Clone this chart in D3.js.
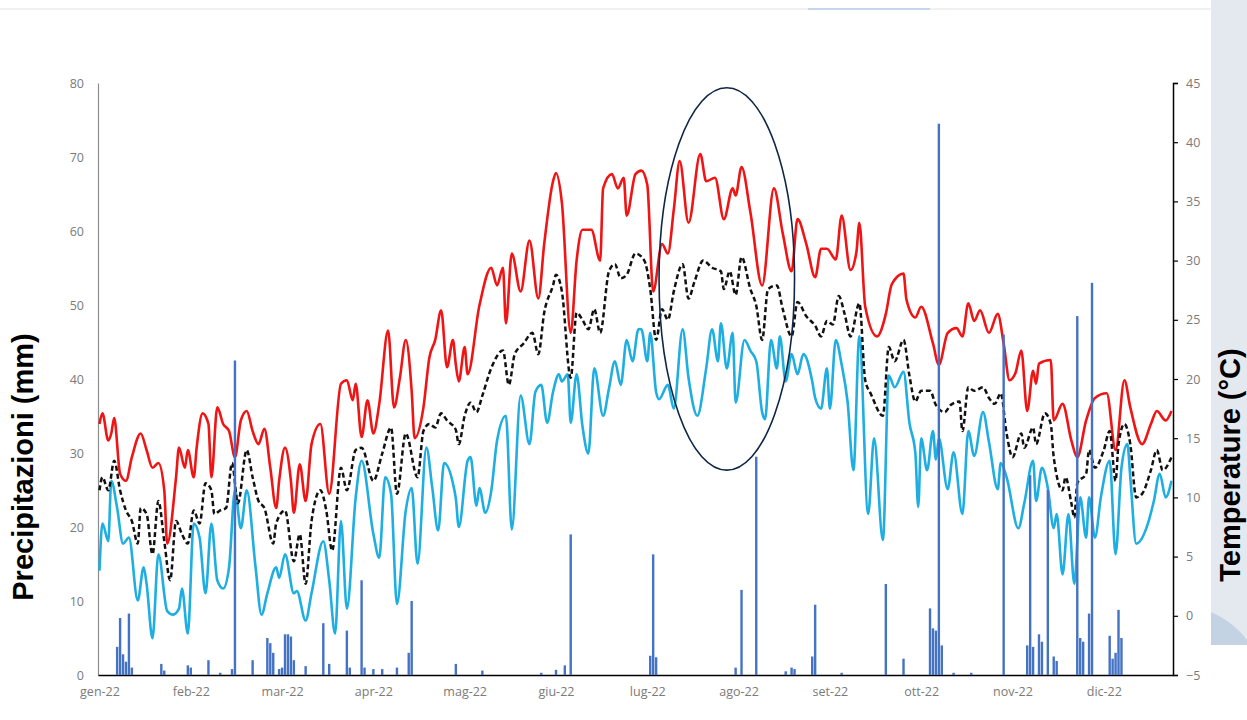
<!DOCTYPE html>
<html>
<head>
<meta charset="utf-8">
<script src="https://cdn.jsdelivr.net/npm/d3@7"></script>
<style>
  body { margin: 0; background: #fff; }
  svg { display: block; }
</style>
</head>
<body>
<svg id="chart" width="1247" height="720"></svg>
<script>
// x axis: one category per day of 2022, a label every 31 days
const tickDays = [0, 31, 62, 93, 124, 155, 186, 217, 248, 279, 310, 341];
const tickLabels = ['gen-22', 'feb-22', 'mar-22', 'apr-22', 'mag-22', 'giu-22',
  'lug-22', 'ago-22', 'set-22', 'ott-22', 'nov-22', 'dic-22'];

// daily rain, mm  [day, value]  (dry days left out)
const precip = [[6,3.8],[7,7.7],[8,2.8],[9,1.8],[10,8.3],[11,1.0],[21,1.5],[22,0.6],[30,1.3],[31,1.0],
  [37,2.0],[41,0.3],[45,0.8],[46,42.5],[52,2.0],[57,5.0],[58,4.3],[59,3.0],[61,0.8],[62,1.0],[63,5.5],
  [64,5.5],[65,5.2],[66,2.0],[70,1.2],[76,7.0],[78,1.5],[84,6.0],[85,1.0],[89,12.8],[90,1.0],[93,0.8],
  [96,0.8],[101,1.0],[105,3.0],[106,10.0],[121,1.5],[130,0.6],[150,0.3],[155,0.7],[158,1.3],[160,19.0],
  [187,2.6],[188,16.3],[189,2.4],[216,1.0],[218,11.5],[223,29.5],[233,0.5],[235,1.0],[236,0.8],[242,2.5],
  [243,9.5],[252,0.3],[267,12.3],[273,2.2],[282,9.0],[283,6.3],[284,6.0],[285,74.5],[286,4.0],[290,0.3],
  [296,0.3],[307,46.0],[315,4.0],[316,27.0],[317,3.8],[319,5.5],[320,4.5],[322,25.0],[324,2.5],[325,1.9],
  [332,48.5],[333,5.0],[334,4.5],[336,8.3],[337,53.0],[343,5.3],[344,2.2],[345,3.0],[346,8.8],[347,5.0]];

// temperatures, °C  [day, value]
const tmax = [[0,16.2],[1,17.1],[3,14.8],[4,15.4],[5,16.7],[7,12.0],[9,11.4],[11,13.4],[14,15.4],[16,14.0],
  [18,12.5],[20,12.9],[22,10.6],[23,6.1],[26,11.7],[27,14.2],[29,12.5],[30,14.0],[32,11.7],[33,14.2],
  [35,17.1],[37,16.2],[38,11.7],[40,17.6],[42,16.2],[44,15.6],[46,13.4],[48,16.5],[50,17.3],[52,15.6],
  [54,14.5],[56,15.8],[58,12.5],[60,9.1],[61,11.4],[63,14.2],[65,11.4],[66,8.7],[68,12.8],[70,9.7],
  [72,14.5],[75,16.2],[78,10.3],[82,19.6],[84,19.9],[86,18.2],[87,19.6],[89,15.1],[91,18.2],[93,15.4],
  [95,17.9],[98,24.1],[100,17.6],[102,20.1],[104,23.3],[106,19.0],[107,15.0],[110,17.6],[112,21.8],
  [114,23.3],[116,25.8],[118,21.0],[120,23.3],[121,21.2],[122,19.8],[124,22.7],[125,20.4],[129,26.2],
  [133,29.4],[135,27.9],[137,29.4],[138,24.7],[140,30.6],[143,27.4],[146,31.7],[149,26.8],[151,31.4],
  [154,36.7],[155,37.4],[157,34.9],[160,23.9],[162,30.0],[164,32.6],[167,32.6],[170,30.0],[171,36.1],
  [174,37.3],[176,36.1],[178,37.0],[179,33.8],[182,37.3],[184,37.6],[186,36.4],[188,27.4],[191,31.4],
  [193,30.6],[195,34.3],[197,38.4],[200,33.2],[204,39.0],[206,36.7],[209,37.0],[212,33.5],[215,36.1],
  [216,35.5],[218,37.9],[221,34.1],[225,27.9],[229,36.1],[232,32.3],[235,29.1],[237,33.5],[240,31.4],
  [243,28.6],[245,31.0],[247,31.0],[250,30.1],[252,33.8],[255,29.2],[257,30.7],[258,33.2],[260,26.1],
  [264,23.6],[267,25.5],[269,28.0],[273,28.9],[274,26.7],[277,25.2],[279,26.1],[283,23.0],[285,21.2],
  [288,23.9],[291,24.3],[293,23.6],[295,26.4],[297,24.9],[299,25.8],[302,23.9],[305,25.5],[307,23.0],
  [309,19.9],[311,20.5],[313,22.4],[315,17.3],[317,20.7],[318,19.6],[319,21.3],[323,21.6],[324,16.5],
  [327,17.9],[330,14.8],[332,13.4],[335,16.5],[338,18.4],[342,18.8],[345,14.0],[348,19.9],[350,17.6],
  [354,14.5],[357,16.2],[359,17.3],[362,16.5],[364,17.3]];

const tmean = [[0,10.6],[1,11.7],[3,10.6],[5,13.1],[7,10.6],[9,8.9],[11,8.0],[13,6.1],[14,9.1],[16,8.6],
  [18,5.2],[20,9.7],[22,6.3],[24,3.0],[26,8.0],[28,6.9],[30,6.1],[32,8.9],[34,7.8],[36,11.2],[38,10.6],
  [39,8.6],[41,8.9],[43,9.1],[45,12.9],[47,9.5],[50,14.0],[52,11.7],[54,9.7],[56,9.1],[59,6.1],[60,7.8],
  [63,8.9],[66,4.6],[68,6.9],[70,2.7],[72,8.0],[75,10.6],[77,8.9],[79,5.5],[82,12.5],[84,10.6],[87,14.0],
  [89,14.2],[93,11.4],[96,13.7],[99,15.9],[101,10.3],[104,15.4],[108,11.7],[110,15.6],[112,16.2],
  [114,15.9],[116,17.1],[118,16.5],[121,15.7],[122,14.5],[124,16.9],[126,18.0],[128,17.2],[130,18.6],
  [133,20.9],[137,22.4],[139,19.5],[141,22.1],[144,23.0],[147,23.9],[149,22.1],[151,25.6],[154,27.9],
  [155,28.8],[157,27.4],[160,20.1],[162,25.6],[164,25.0],[166,24.2],[168,25.9],[170,23.9],[173,29.1],
  [175,29.7],[177,28.5],[179,28.8],[182,30.6],[185,30.0],[187,27.6],[189,23.3],[191,25.9],[193,25.0],
  [195,27.4],[198,29.7],[200,26.8],[202,28.2],[205,30.0],[208,29.4],[211,29.1],[212,27.6],[214,29.1],
  [216,27.1],[218,30.3],[221,27.6],[223,26.2],[225,23.3],[227,27.6],[230,27.9],[232,25.9],[235,23.6],
  [237,26.5],[240,25.3],[243,24.5],[245,23.6],[247,24.9],[249,24.6],[251,27.0],[253,25.5],[255,23.6],
  [258,26.4],[260,19.9],[262,18.7],[266,16.9],[268,22.7],[270,21.5],[273,23.3],[275,20.3],[277,18.1],
  [279,19.0],[282,19.0],[284,17.8],[287,17.2],[289,17.8],[292,18.1],[293,15.6],[295,19.3],[297,19.0],
  [300,19.3],[302,18.4],[304,17.9],[306,18.8],[308,15.4],[310,13.4],[313,15.4],[314,14.2],[317,15.9],
  [318,14.5],[321,17.1],[323,16.2],[324,13.4],[327,10.6],[328,11.7],[330,9.5],[331,8.3],[332,11.2],
  [335,12.0],[336,14.0],[338,12.5],[341,14.0],[343,15.6],[345,11.4],[346,14.5],[348,16.2],[350,14.5],
  [352,10.0],[354,10.3],[357,12.3],[359,14.0],[361,12.3],[364,13.4]];

const tmin = [[0,3.8],[1,7.8],[3,6.3],[4,11.4],[6,9.1],[8,6.1],[10,6.6],[13,1.3],[15,4.1],[16,2.7],
  [18,-1.9],[20,5.2],[23,0.4],[25,0.1],[27,0.6],[28,2.3],[30,-1.5],[32,7.8],[34,6.6],[36,1.9],[38,7.8],
  [40,3.0],[42,2.3],[44,4.1],[46,10.6],[48,7.4],[50,10.6],[53,4.1],[55,0.1],[57,1.9],[60,4.1],[61,3.2],
  [63,5.2],[66,1.9],[67,2.1],[70,-0.4],[72,1.9],[76,6.3],[78,3.0],[80,-1.5],[82,8.0],[84,0.6],[87,10.0],
  [89,13.1],[93,6.9],[95,4.9],[97,11.7],[99,10.3],[101,1.0],[104,8.9],[106,10.8],[108,4.4],[111,14.2],
  [113,10.8],[115,7.2],[117,12.9],[120,11.2],[121,9.9],[122,7.5],[125,13.1],[126,13.4],[128,9.3],
  [129,10.8],[131,8.7],[133,10.5],[135,14.8],[138,16.9],[140,7.3],[143,18.6],[146,14.5],[148,18.9],
  [150,19.5],[152,16.3],[154,18.9],[156,20.4],[157,19.8],[159,20.4],[160,16.3],[162,20.4],[164,16.0],
  [166,13.7],[168,20.9],[171,16.9],[173,19.2],[175,21.5],[177,19.5],[179,23.3],[181,21.5],[183,24.2],
  [184,24.2],[186,21.5],[187,23.9],[189,18.9],[190,18.3],[193,19.5],[195,17.5],[198,24.2],[200,20.1],
  [203,16.9],[206,20.9],[208,24.2],[210,21.5],[211,24.7],[213,20.9],[215,23.9],[216,18.0],[219,23.3],
  [221,22.4],[223,21.5],[225,17.2],[226,16.6],[228,23.3],[230,20.9],[231,23.6],[233,19.8],[235,22.1],
  [237,20.4],[239,22.1],[242,19.8],[243,18.4],[245,17.5],[247,20.9],[248,17.5],[250,23.3],[252,21.2],
  [254,18.1],[256,12.3],[258,23.6],[261,8.6],[263,15.0],[266,6.4],[268,20.3],[270,19.3],[273,20.6],
  [275,16.3],[277,13.8],[278,9.2],[279,15.0],[281,12.3],[283,15.6],[284,13.2],[285,15.0],[288,10.7],
  [290,13.8],[293,8.6],[295,15.6],[297,13.5],[300,17.2],[302,14.7],[305,10.7],[306,12.9],[308,11.7],
  [312,7.4],[314,9.5],[317,13.1],[318,9.7],[320,12.5],[322,10.8],[324,7.4],[325,8.6],[327,3.5],[329,8.6],
  [331,2.7],[333,10.0],[335,6.6],[336,10.0],[338,6.6],[340,10.0],[343,13.1],[345,5.2],[347,12.5],
  [349,14.5],[350,11.7],[352,6.1],[356,7.8],[358,9.7],[360,12.0],[362,10.0],[364,11.4]];

// hand-drawn ellipse around the hottest weeks (days / °C)
const highlightDays = [190, 236];
const highlightTemps = [12.3, 44.6];

const svg = d3.select('#chart');

const x = d3.scaleLinear().domain([-0.5, 364.5]).range([98, 1173]);
const yP = d3.scaleLinear().domain([0, 80]).range([675, 83]);
const yT = d3.scaleLinear().domain([-5, 45]).range([675, 83]);

// slide background strip on the right
svg.append('rect')
  .attr('x', 1211).attr('y', 0).attr('width', 36).attr('height', 645)
  .attr('fill', '#e4e9ef');
svg.append('path')
  .attr('d', 'M1211,612 C1225,618 1238,628 1247,640 L1247,645 L1211,645 Z')
  .attr('fill', '#c3d3e4');
// faint frame line across the top of the chart box
svg.append('line')
  .attr('x1', 0).attr('x2', 1211).attr('y1', 9).attr('y2', 9)
  .attr('stroke', '#e2e2e2');
svg.append('line')
  .attr('x1', 808).attr('x2', 930).attr('y1', 9).attr('y2', 9)
  .attr('stroke', '#c5d6ea').attr('stroke-width', 2);

// axes
const left = svg.append('g')
  .attr('transform', 'translate(98,0)')
  .call(d3.axisLeft(yP).tickValues(d3.range(0, 81, 10)).tickSize(0).tickPadding(14));
left.select('.domain').attr('stroke', '#8c8c8c').attr('stroke-width', 1.2);

const right = svg.append('g')
  .attr('transform', 'translate(1173,0)')
  .call(d3.axisRight(yT).tickValues(d3.range(-5, 46, 5)).tickSize(5).tickPadding(8));
right.select('.domain').attr('stroke', '#000').attr('stroke-width', 1.5);
right.selectAll('.tick line').attr('stroke', '#000').attr('stroke-width', 1.2);

const bottom = svg.append('g')
  .attr('transform', 'translate(0,675)')
  .call(d3.axisBottom(x).tickValues(tickDays).tickFormat((d, i) => tickLabels[i])
    .tickSize(0).tickPadding(12));
bottom.select('.domain').attr('stroke', '#000').attr('stroke-width', 1.5);

svg.selectAll('.tick text')
  .attr('fill', '#7a7a7a')
  .style('font-family', '"Open Sans", sans-serif')
  .style('font-size', '12.5px');

// temperature lines
const line = d3.line()
  .x(d => x(d[0]))
  .y(d => yT(d[1]))
  .curve(d3.curveMonotoneX);

svg.append('path').datum(tmin)
  .attr('fill', 'none').attr('stroke', '#1eaee2').attr('stroke-width', 2.6)
  .attr('d', line);
svg.append('path').datum(tmax)
  .attr('fill', 'none').attr('stroke', '#f01414').attr('stroke-width', 2.6)
  .attr('d', line);
svg.append('path').datum(tmean)
  .attr('fill', 'none').attr('stroke', '#111').attr('stroke-width', 2.5)
  .attr('stroke-dasharray', '5,3')
  .attr('d', line);

// rain bars
svg.append('g').selectAll('rect')
  .data(precip)
  .enter()
  .append('rect')
  .attr('x', d => x(d[0]) - 1.2)
  .attr('y', d => yP(d[1]))
  .attr('width', 2.4)
  .attr('height', d => yP(0) - yP(d[1]))
  .attr('fill', '#4472c4');

// annotation ellipse
svg.append('ellipse')
  .attr('cx', (x(highlightDays[0]) + x(highlightDays[1])) / 2)
  .attr('cy', (yT(highlightTemps[0]) + yT(highlightTemps[1])) / 2)
  .attr('rx', (x(highlightDays[1]) - x(highlightDays[0])) / 2)
  .attr('ry', (yT(highlightTemps[0]) - yT(highlightTemps[1])) / 2)
  .attr('fill', 'none')
  .attr('stroke', '#0e2747')
  .attr('stroke-width', 1.6);

// axis titles
svg.append('text')
  .attr('transform', 'translate(33,467) rotate(-90)')
  .attr('text-anchor', 'middle')
  .style('font-family', '"Liberation Sans", Arial, sans-serif')
  .style('font-weight', 'bold')
  .style('font-size', '29px')
  .text('Precipitazioni (mm)');

svg.append('text')
  .attr('transform', 'translate(1240,465) rotate(-90)')
  .attr('text-anchor', 'middle')
  .style('font-family', '"Liberation Sans", Arial, sans-serif')
  .style('font-weight', 'bold')
  .style('font-size', '29px')
  .text('Temperature (°C)');
</script>
</body>
</html>
